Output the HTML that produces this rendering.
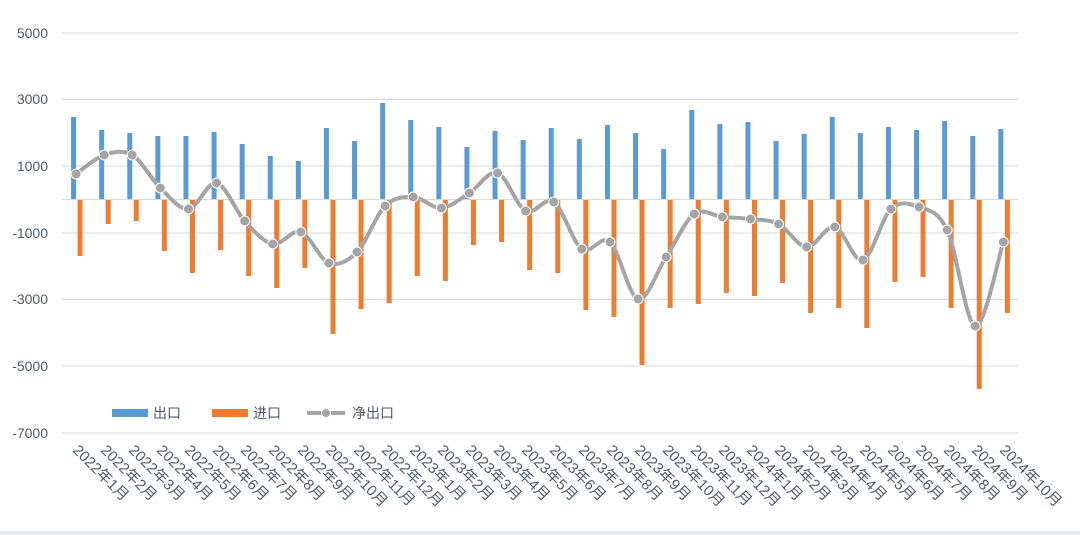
<!DOCTYPE html>
<html><head><meta charset="utf-8"><style>
html,body{margin:0;padding:0;background:#fff;width:1080px;height:535px;overflow:hidden}
text{font-family:"Liberation Sans","Noto Sans CJK SC",sans-serif;fill:#4f5b6b}
</style></head><body>
<svg id="s" width="1080" height="535" xmlns="http://www.w3.org/2000/svg">
<rect x="0" y="0" width="1080" height="535" fill="#fff"/>
<rect x="0" y="531" width="1080" height="4" fill="#e8ebef"/>
<g stroke="#d9d9d9" stroke-width="1">
<line x1="62" x2="1018" y1="33" y2="33"/><line x1="62" x2="1018" y1="99.5" y2="99.5"/>
<line x1="62" x2="1018" y1="166" y2="166"/><line x1="62" x2="1018" y1="233" y2="233"/>
<line x1="62" x2="1018" y1="299.5" y2="299.5"/><line x1="62" x2="1018" y1="366" y2="366"/>
<line x1="62" x2="1018" y1="433" y2="433"/>
</g>
<g font-size="14" text-anchor="end">
<text x="48" y="38">5000</text><text x="48" y="104">3000</text><text x="48" y="171">1000</text>
<text x="48" y="238">-1000</text><text x="48" y="304">-3000</text><text x="48" y="371">-5000</text><text x="48" y="438">-7000</text>
</g>
<g id="bars"></g>
<line x1="62" x2="1018" y1="199.5" y2="199.5" stroke="#d9d9d9"/>
<path id="ln" fill="none" stroke="#a5a5a5" stroke-width="4" stroke-linejoin="round"/>
<g id="mk"></g>
<g id="lbl" font-size="15">
<text transform="translate(72,451) rotate(45)">2022年1月</text>
<text transform="translate(100,451) rotate(45)">2022年2月</text>
<text transform="translate(128,451) rotate(45)">2022年3月</text>
<text transform="translate(156,451) rotate(45)">2022年4月</text>
<text transform="translate(184,451) rotate(45)">2022年5月</text>
<text transform="translate(212,451) rotate(45)">2022年6月</text>
<text transform="translate(240,451) rotate(45)">2022年7月</text>
<text transform="translate(268,451) rotate(45)">2022年8月</text>
<text transform="translate(297,451) rotate(45)">2022年9月</text>
<text transform="translate(325,451) rotate(45)">2022年10月</text>
<text transform="translate(353,451) rotate(45)">2022年11月</text>
<text transform="translate(381,451) rotate(45)">2022年12月</text>
<text transform="translate(409,451) rotate(45)">2023年1月</text>
<text transform="translate(437,451) rotate(45)">2023年2月</text>
<text transform="translate(465,451) rotate(45)">2023年3月</text>
<text transform="translate(493,451) rotate(45)">2023年4月</text>
<text transform="translate(521,451) rotate(45)">2023年5月</text>
<text transform="translate(549,451) rotate(45)">2023年6月</text>
<text transform="translate(578,451) rotate(45)">2023年7月</text>
<text transform="translate(606,451) rotate(45)">2023年8月</text>
<text transform="translate(634,451) rotate(45)">2023年9月</text>
<text transform="translate(662,451) rotate(45)">2023年10月</text>
<text transform="translate(690,451) rotate(45)">2023年11月</text>
<text transform="translate(718,451) rotate(45)">2023年12月</text>
<text transform="translate(746,451) rotate(45)">2024年1月</text>
<text transform="translate(774,451) rotate(45)">2024年2月</text>
<text transform="translate(802,451) rotate(45)">2024年3月</text>
<text transform="translate(830,451) rotate(45)">2024年4月</text>
<text transform="translate(859,451) rotate(45)">2024年5月</text>
<text transform="translate(887,451) rotate(45)">2024年6月</text>
<text transform="translate(915,451) rotate(45)">2024年7月</text>
<text transform="translate(943,451) rotate(45)">2024年8月</text>
<text transform="translate(971,451) rotate(45)">2024年9月</text>
<text transform="translate(999,451) rotate(45)">2024年10月</text>
</g>
<rect x="112" y="409" width="36" height="8" fill="#5b9bd5"/>
<text x="153" y="418" font-size="14">出口</text>
<rect x="212" y="409" width="36" height="8" fill="#ed7d31"/>
<text x="253" y="418" font-size="14">进口</text>
<line x1="307" x2="345" y1="413" y2="413" stroke="#a5a5a5" stroke-width="4"/>
<circle cx="326" cy="413" r="4.5" fill="#a5a5a5" stroke="#fff" stroke-width="1"/>
<text x="352" y="418" font-size="14">净出口</text>
</svg>
<script>
var ex=[117,130,133,136,136,132,144,156,161,128,141,103,120,127,147,131,140,128,139,125,133,149,110,124,122,141,134,117,133,127,130,121,136,129];
var im=[256,224,221,251,273,250,276,288,268,334,309,303,276,281,245,242,270,273,310,317,365,308,304,293,296,283,313,308,328,282,277,308,389,313];
var nt=[174,155,155,188,209,183,221,244,232,263,252,206,197,208,193,173,211,202,249,242,299,257,214,217,219,224,247,227,260,209,207,230,326,242];
var ns="http://www.w3.org/2000/svg",b=document.getElementById('bars'),m=document.getElementById('mk');
function el(t,a,p){var e=document.createElementNS(ns,t);for(var k in a)e.setAttribute(k,a[k]);p.appendChild(e);}
var P=[];
for(var i=0;i<34;i++){var cx=62+28.1*(i+0.5);
el('rect',{x:cx-5,y:ex[i],width:5,height:199.5-ex[i],fill:'#5b9bd5'},b);
el('rect',{x:cx+1.5,y:199.5,width:5,height:im[i]-199.5,fill:'#ed7d31'},b);
P.push([cx,nt[i]]);}
var d='M'+P[0][0]+','+P[0][1];
for(var i=0;i<P.length-1;i++){var p0=P[i-1]||P[i],p1=P[i],p2=P[i+1],p3=P[i+2]||p2,t=6;
d+=' C'+(p1[0]+(p2[0]-p0[0])/t)+','+(p1[1]+(p2[1]-p0[1])/t)+' '+(p2[0]-(p3[0]-p1[0])/t)+','+(p2[1]-(p3[1]-p1[1])/t)+' '+p2[0]+','+p2[1];}
document.getElementById('ln').setAttribute('d',d);
P.forEach(function(p){el('circle',{cx:p[0],cy:p[1],r:5,fill:'#a5a5a5',stroke:'#fff','stroke-width':1},m);});
</script>
</body></html>
